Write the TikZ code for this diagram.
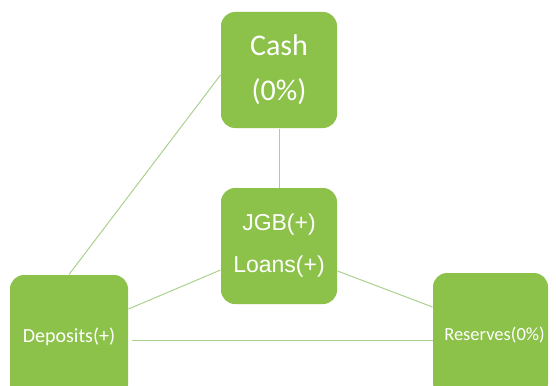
\documentclass[tikz,border=0pt]{standalone}
\usepackage{fontspec}
\setmainfont{Carlito}
\newfontfamily\jgbfont{Liberation Sans}
\usetikzlibrary{positioning}
\definecolor{boxgreen}{RGB}{141,194,74}
\definecolor{linkgreen}{RGB}{169,209,142}

\begin{document}
\begin{tikzpicture}[x=1pt,y=-1pt,node distance=176pt,
					line width=1pt]
					\tikzstyle{acct}=[shape=rectangle,rounded corners=14pt,fill=boxgreen,text=white,
					minimum width=116pt,minimum height=116pt,align=center,inner sep=0pt]
					\tikzstyle{link}=[draw=linkgreen]
					
					\useasboundingbox (0,0) rectangle (556,385);
					
					\node[acct,font=\fontsize{30}{45}\selectfont] (cash) at (279,70) {Cash\\(0\%)};
					\node[acct,font=\jgbfont\fontsize{23}{42}\selectfont] (jgb) [below of=cash] {JGB(+)\\Loans(+)};
					\node[acct,minimum width=118pt,minimum height=124pt,font=\fontsize{20}{24}\selectfont] (deposits) at (69,337) {Deposits(+)};
					\node[acct,minimum width=115pt,minimum height=124pt,font=\fontsize{18.5}{22}\selectfont] (reserves) at (490.5,335) {\hspace{8pt}Reserves(0\%)};
					
					
					\path[link] ([yshift=-5pt]cash.west) edge (deposits.north)
					(cash.south) edge (jgb.north)
					([yshift=-24pt]jgb.west) edge ([yshift=28pt]deposits.east)
					([yshift=-25pt]jgb.east) edge ([yshift=28pt]reserves.west)
					([xshift=3pt,yshift=-3pt]deposits.east) edge ([yshift=-5pt]reserves.west)
					;
					\end{tikzpicture}
\end{document}
